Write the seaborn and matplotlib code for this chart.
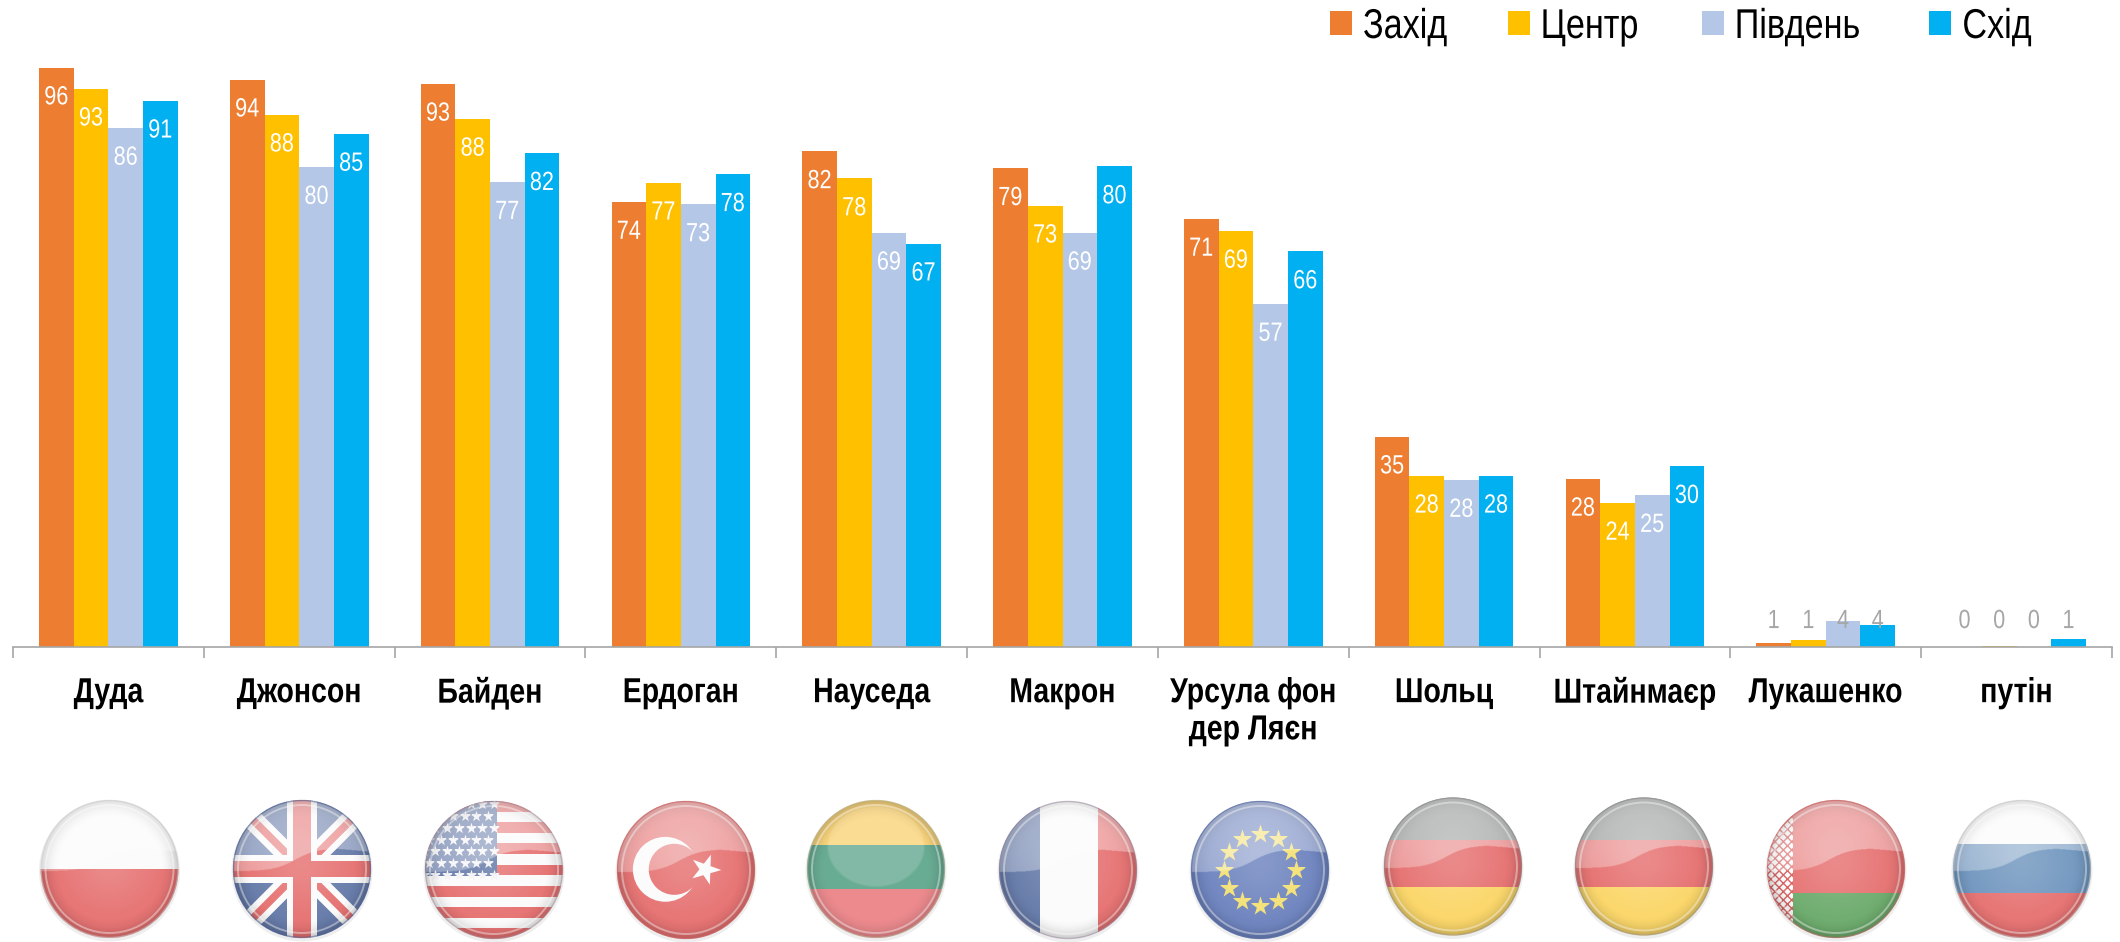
import numpy as np
import pandas as pd
import matplotlib
matplotlib.use("Agg")
import matplotlib.pyplot as plt
import matplotlib.patheffects as pe
from matplotlib.markers import MarkerStyle
from matplotlib.transforms import Affine2D
import seaborn as sns
from matplotlib.patches import Circle, Rectangle, Polygon

leaders = ["Дуда", "Джонсон", "Байден", "Ердоган", "Науседа", "Макрон",
           "Урсула фон\nдер Ляєн", "Шольц", "Штайнмаєр", "Лукашенко", "путін"]
regions = ["Захід", "Центр", "Південь", "Схід"]
region_colors = ["#ED7D31", "#FFC000", "#B4C7E7", "#00B0F0"]
west = [96.1, 94.1, 93.4, 73.8, 82.2, 79.4, 71.0, 34.9, 27.9, 0.6, 0.0]
centre = [92.6, 88.3, 87.6, 77.0, 77.7, 73.2, 69.0, 28.4, 23.9, 1.2, 0.2]
south = [86.1, 79.6, 77.1, 73.4, 68.7, 68.7, 56.9, 27.7, 25.2, 4.3, 0.0]
east = [90.6, 85.1, 81.9, 78.4, 66.9, 79.7, 65.6, 28.4, 30.0, 3.6, 1.3]

W, H = 2120, 942
sns.set_theme(style="white")
plt.rcParams["font.family"] = ["Liberation Sans", "DejaVu Sans"]


class Narrow(pe.AbstractPathEffect):
    """Condense the glyph outlines of a real text object horizontally."""

    def __init__(self, sx=0.82, centered=True):
        super().__init__()
        self.sx, self.centered = sx, centered

    def draw_path(self, renderer, gc, tpath, affine, rgbFace=None):
        shift = 0.0
        if self.centered and len(tpath.vertices):
            x = tpath.vertices[:, 0]
            shift = (x.min() + x.max()) / 2 * (1 - self.sx)
        renderer.draw_path(gc, tpath, Affine2D().scale(self.sx, 1).translate(shift, 0) + affine, rgbFace)


NARROW_C = [Narrow()]
NARROW_L = [Narrow(centered=False)]

df = pd.DataFrame({"leader": leaders * 4,
                   "region": np.repeat(regions, len(leaders)),
                   "value": west + centre + south + east})

fig = plt.figure(figsize=(W / 100, H / 100), dpi=100)
ax = fig.add_axes([13 / W, 1 - 647 / H, (2112 - 13) / W, 603 / H])
sns.barplot(data=df, x="leader", y="value", hue="region", order=leaders,
            hue_order=regions, palette=region_colors, width=0.7265, gap=0,
            saturation=1, linewidth=0, errorbar=None, ax=ax)
ax.set_xlim(-0.5, len(leaders) - 0.5)
ax.set_ylim(0, 100)
ax.set_xlabel("")
ax.set_ylabel("")
ax.set_yticks([])
for s in ["top", "left", "right"]:
    ax.spines[s].set_visible(False)
ax.spines["bottom"].set_color("#A6A6A6")
ax.spines["bottom"].set_linewidth(1.2)
ax.set_xticks(np.arange(len(leaders) + 1) - 0.5)
ax.set_xticklabels([])
ax.set_xticks(np.arange(len(leaders)), minor=True)
ax.set_xticklabels(leaders, minor=True, fontsize=25, fontweight="bold",
                   color="black", linespacing=1.16, va="top")
for t in ax.get_xticklabels(minor=True):
    t.set_path_effects(NARROW_C)
ax.tick_params(axis="x", which="major", length=8, width=1.2, color="#A6A6A6", bottom=True)
ax.tick_params(axis="x", which="minor", length=0, pad=21, bottom=False)

for cont in ax.containers:
    for bar in cont:
        v = bar.get_height()
        x = bar.get_x() + bar.get_width() / 2
        label = f"{v:.0f}"
        if v < 5:
            t = ax.text(x, 4.3, label, ha="center", va="center", fontsize=19, color="#A6A6A6")
        else:
            t = ax.annotate(label, (x, v), xytext=(0, -21.5), textcoords="offset points",
                            ha="center", va="center", fontsize=19, color="white")
        t.set_path_effects(NARROW_C)

h, l = ax.get_legend_handles_labels()
ax.legend_.remove()
fs = 30
px = 72 / 100 / fs
leg = fig.legend(h, l, loc="upper left", bbox_to_anchor=(1330 / W, 1 - 7 / H), ncols=4,
                 frameon=False, fontsize=fs, borderpad=0, borderaxespad=0,
                 handlelength=22 * px, handleheight=22 * px, handletextpad=11 * px,
                 columnspacing=42 * px)
for t in leg.get_texts():
    t.set_color("black")
    t.set_path_effects(NARROW_L)

# decorative glossy flag badges, in a full-figure pixel overlay
ov = fig.add_axes([0, 0, 1, 1], zorder=5)
ov.set_xlim(0, W)
ov.set_ylim(H, 0)
ov.axis("off")
R = 69

RED = "#E67070"; WHITE = "#FBFBFB"; BLUE = "#6479A8"; GOLD = "#FBD667"
GREY = "#8F9191"; GREEN = "#6BAA6B"; RUB = "#6F95BE"; EUB = "#6C82BE"; LY = "#F3E070"
LG = "#69AC94"; LR = "#EC8A8E"; LGOLD = "#FAD57C"


def hbands(cx, cy, clip, cuts, cols):
    edges = [-1.05] + cuts + [1.05]
    for a, b, c in zip(edges[:-1], edges[1:], cols):
        r = Rectangle((cx - R * 1.05, cy + a * R), 2.1 * R, (b - a) * R, fc=c, ec="none", zorder=2)
        ov.add_patch(r)
        r.set_clip_path(clip)


def vbands(cx, cy, clip, cuts, cols):
    edges = [-1.05] + cuts + [1.05]
    for a, b, c in zip(edges[:-1], edges[1:], cols):
        r = Rectangle((cx + a * R, cy - R * 1.05), (b - a) * R, 2.1 * R, fc=c, ec="none", zorder=2)
        ov.add_patch(r)
        r.set_clip_path(clip)


def poly(cx, cy, clip, pts, c, z=3):
    p = Polygon([(cx + a * R, cy + b * R) for a, b in pts], fc=c, ec="none", zorder=z)
    ov.add_patch(p)
    p.set_clip_path(clip)


def stars(cx, cy, clip, us, vs, c, s, angle=0):
    m = MarkerStyle("*", transform=Affine2D().rotate_deg(angle))
    sc = ov.scatter(cx + np.asarray(us) * R, cy + np.asarray(vs) * R, marker=m, s=s,
                    c=c, linewidths=0, zorder=4)
    sc.set_clip_path(clip)


def uk(cx, cy, clip):
    hbands(cx, cy, clip, [], [BLUE])
    d = 0.13
    for sx in (1, -1):
        poly(cx, cy, clip, [(-1.1 * sx, -1.1 + d * 1.6), (-1.1 * sx, -1.1 - d * 1.6),
                            (1.1 * sx, 1.1 - d * 1.6), (1.1 * sx, 1.1 + d * 1.6)], WHITE)
        poly(cx, cy, clip, [(-1.1 * sx, -1.1 + d * .6), (-1.1 * sx, -1.1 - d * .6),
                            (1.1 * sx, 1.1 - d * .6), (1.1 * sx, 1.1 + d * .6)], RED)
    poly(cx, cy, clip, [(-.22, -1.1), (.22, -1.1), (.22, 1.1), (-.22, 1.1)], WHITE, 3)
    poly(cx, cy, clip, [(-1.1, -.2), (1.1, -.2), (1.1, .2), (-1.1, .2)], WHITE, 3)
    poly(cx, cy, clip, [(-.13, -1.1), (.13, -1.1), (.13, 1.1), (-.13, 1.1)], RED, 3)
    poly(cx, cy, clip, [(-1.1, -.12), (1.1, -.12), (1.1, .12), (-1.1, .12)], RED, 3)


def us(cx, cy, clip):
    hbands(cx, cy, clip, [], [WHITE])
    for i in range(0, 14, 2):
        a = -1 + i * 2 / 13
        poly(cx, cy, clip, [(-1.1, a), (1.1, a), (1.1, a + 2 / 13), (-1.1, a + 2 / 13)], RED)
    poly(cx, cy, clip, [(-1.1, -1.1), (.05, -1.1), (.05, .09), (-1.1, .09)], BLUE)
    uu, vv = [], []
    for j in range(7):
        v0 = -0.95 + j * 0.17
        for i in range(6 + (j % 2 == 0)):
            uu.append(-1.02 + (0 if j % 2 == 0 else .085) + i * .17)
            vv.append(v0)
    stars(cx, cy, clip, uu, vv, "#F4F4F8", 70)


def turkey(cx, cy, clip):
    hbands(cx, cy, clip, [], [RED])
    c1 = Circle((cx - .3 * R, cy - .01 * R), .47 * R, fc=WHITE, ec="none", zorder=3)
    c2 = Circle((cx - .17 * R, cy - .01 * R), .37 * R, fc=RED, ec="none", zorder=3.5)
    ov.add_patch(c1)
    ov.add_patch(c2)
    stars(cx, cy, clip, [.27], [-.02], WHITE, 520, angle=-20)


def eu(cx, cy, clip):
    hbands(cx, cy, clip, [], [EUB])
    a = np.arange(12) * np.pi / 6
    stars(cx, cy, clip, .52 * np.cos(a), .52 * np.sin(a), LY, 210)


def belarus(cx, cy, clip):
    hbands(cx, cy, clip, [.35], [RED, GREEN])
    r = Rectangle((cx - 1.05 * R, cy - 1.05 * R), .43 * R, 2.1 * R, fc=WHITE, ec="#D85F5F",
                  hatch="xxxx", lw=0, zorder=3)
    ov.add_patch(r)
    r.set_clip_path(clip)


def simple(kind, cuts, cols):
    return lambda cx, cy, clip: kind(cx, cy, clip, cuts, cols)


flags = [(109.5, 869, simple(hbands, [0.0], [WHITE, RED]), "#C8C8C8", "wave"),
         (302, 869, uk, "#4E6295", "wave"),
         (494, 870, us, "#A98A95", "wave"),
         (686, 870, turkey, "#C96A6A", "wave"),
         (876, 869, simple(hbands, [-.35, .29], [LGOLD, LG, LR]), "#B8B89A", "dome"),
         (1068, 870, simple(vbands, [-.4, .43], [BLUE, WHITE, RED]), "#9A8AA0", "wave"),
         (1260, 870, eu, "#5C72A8", "wave"),
         (1453, 866.5, simple(hbands, [-.38, .3], [GREY, RED, GOLD]), "#8A8A8A", "wave"),
         (1644, 866.5, simple(hbands, [-.38, .3], [GREY, RED, GOLD]), "#8A8A8A", "wave"),
         (1836, 869, belarus, "#C96A6A", "wave"),
         (2022, 869, simple(hbands, [-.36, .35], [WHITE, RUB, RED]), "#C4C4C4", "wave")]

n = 280
uu, vv = np.meshgrid(np.linspace(-1, 1, n), np.linspace(-1, 1, n))
rr = np.hypot(uu, vv)
wave = 0.03 - 0.33 * (0.5 + 0.5 * np.tanh((uu + 0.1) * 3.2)) + 0.10 * np.clip(uu - .5, 0, 1)
alpha = np.where(vv < wave, 0.40 - 0.12 * (vv + 1), 0.0)
alpha = alpha + 0.18 * np.exp(-((uu / .7) ** 2 + ((vv + .1) / .7) ** 2))
alpha = np.clip(alpha, 0, .7)
alpha[rr > 1] = 0
gloss_wave = np.ones((n, n, 4))
gloss_wave[..., 3] = alpha
dome = np.clip((1 - np.hypot(uu / .72, (vv + .33) / .6)) * 20, 0, 1) * .17
dome[rr > 1] = 0
gloss_dome = np.ones((n, n, 4))
gloss_dome[..., 3] = dome
glosses = {"wave": gloss_wave, "dome": gloss_dome}
edge = np.zeros((n, n, 4))
edge[..., 3] = np.clip((rr - .72) / .28, 0, 1) ** 2 * .20 * (rr <= 1)

for cx, cy, draw, rim, g in flags:
    ov.add_patch(Circle((cx, cy + 2), R + 1.5, fc="#D0D0D0", ec="none", alpha=.35, zorder=1))
    clip = Circle((cx, cy), R, transform=ov.transData)
    draw(cx, cy, clip)
    ext = (cx - R, cx + R, cy + R, cy - R)
    for img in (edge, glosses[g]):
        im = ov.imshow(img, extent=ext, zorder=6, interpolation="bilinear", aspect="auto")
        im.set_clip_path(clip)
    ov.add_patch(Circle((cx, cy), R - 5, fc="none", ec="white", lw=1.4, alpha=.4, zorder=7))
    ov.add_patch(Circle((cx, cy), R - .5, fc="none", ec=rim, lw=1.0, alpha=.55, zorder=7))
ov.set_xlim(0, W)
ov.set_ylim(H, 0)

fig.savefig("out.png", dpi=100, facecolor="white")
